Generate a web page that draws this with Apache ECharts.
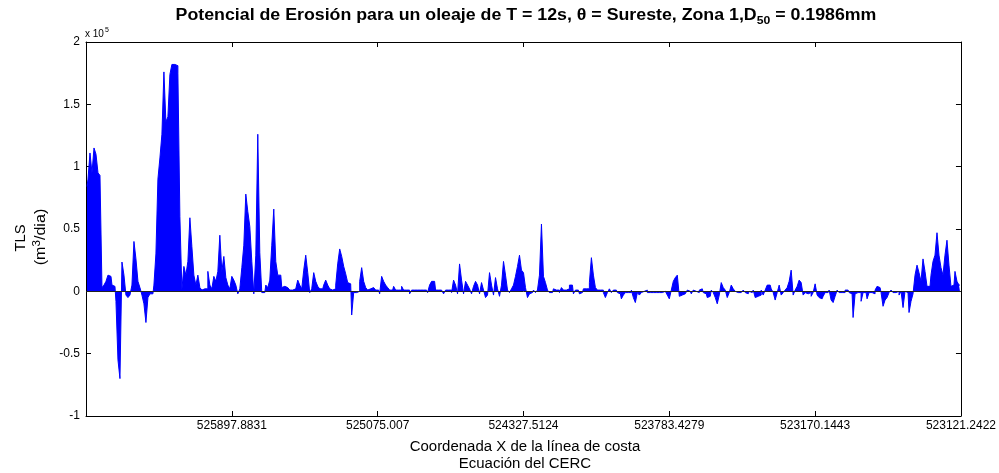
<!DOCTYPE html>
<html>
<head>
<meta charset="utf-8">
<script src="https://cdn.jsdelivr.net/npm/echarts@6/dist/echarts.min.js"></script>
<style>
  html, body { margin: 0; padding: 0; background: #fff; }
  #chart { width: 999px; height: 473px; }
</style>
</head>
<body>
<div id="chart"></div>
<script>
// TLS along the shoreline, in units of 1e5 m^3/dia (one value per station)
const tlsValues = [
  0.84, 0.90, 1.11, 0.95, 1.15, 1.10, 0.95, 0.93, 0.03, 0.05,
  0.08, 0.13, 0.12, 0.05, 0.04, -0.08, -0.55, -0.70, 0.235, 0.13,
  -0.03, -0.05, -0.03, 0.05, 0.40, 0.26, 0.08, 0.03, -0.03, -0.10,
  -0.25, -0.05, -0.02, -0.02, 0.05, 0.30, 0.90, 1.07, 1.26, 1.76,
  1.36, 1.40, 1.74, 1.82, 1.82, 1.81, 1.75, 0.60, 0.01, 0.20,
  0.13, 0.24, 0.59, 0.36, 0.13, 0.05, 0.13, 0.03, 0.01, 0.02,
  0.02, 0.16, 0.05, 0.02, 0.12, 0.08, 0.16, 0.45, 0.16, 0.28,
  0.11, 0.05, 0.02, 0.12, 0.09, 0.05, -0.02, 0.02, 0.19, 0.37,
  0.78, 0.64, 0.52, 0.24, -0.02, 0.29, 1.26, 0.31, -0.01, -0.01,
  0.05, 0.03, 0.09, 0.37, 0.66, 0.24, 0.13, 0.13, 0.03, 0.04,
  0.03, 0.02, 0.01, 0.01, 0.02, 0.03, 0.09, 0.05, 0.02, 0.17,
  0.29, 0.15, -0.01, 0.02, 0.15, 0.08, 0.04, 0.02, 0.02, 0.05,
  0.09, 0.05, 0.02, 0.01, 0.02, 0.05, 0.22, 0.34, 0.28, 0.20,
  0.14, 0.07, 0.06, -0.19, -0.01, -0.01, 0.00, 0.08, 0.19, 0.08,
  0.03, 0.01, 0.02, 0.03, 0.03, 0.01, 0.01, -0.02, 0.12, 0.08,
  0.05, 0.03, 0.01, 0.01, 0.04, 0.01, 0.01, 0.01, 0.04, 0.01,
  0.01, 0.01, -0.02, 0.01, 0.01, 0.01, 0.01, 0.01, 0.01, 0.01,
  0.01, -0.01, 0.05, 0.08, 0.08, 0.01, 0.01, 0.01, 0.01, -0.02,
  0.01, 0.01, 0.01, -0.01, 0.09, 0.05, -0.02, 0.22, 0.09, -0.02,
  0.08, 0.05, 0.02, -0.02, 0.04, 0.08, 0.05, -0.02, 0.07, 0.01,
  -0.05, -0.03, 0.15, 0.05, -0.03, 0.11, 0.02, -0.04, 0.05, 0.24,
  0.13, 0.01, -0.01, 0.02, 0.05, 0.12, 0.20, 0.29, 0.17, 0.15,
  0.03, -0.05, -0.02, -0.01, 0.01, -0.01, 0.01, 0.13, 0.54, 0.12,
  0.07, 0.01, -0.01, -0.01, 0.02, 0.01, 0.01, -0.01, 0.03, 0.01,
  0.01, 0.02, 0.05, 0.05, -0.02, 0.01, 0.01, -0.02, -0.01, 0.02,
  0.02, 0.02, 0.07, 0.27, 0.13, 0.03, 0.01, 0.01, 0.01, -0.01,
  -0.05, -0.01, 0.02, -0.01, 0.01, 0.01, -0.01, -0.02, -0.06, -0.03,
  -0.01, -0.01, -0.01, 0.01, -0.05, -0.09, -0.01, -0.03, -0.01, 0.00,
  0.01, -0.01, -0.01, -0.01, -0.01, -0.01, -0.01, -0.02, -0.01, 0.00,
  -0.01, -0.03, -0.06, 0.01, 0.08, 0.11, 0.13, -0.04, -0.03, -0.02,
  -0.01, 0.01, 0.00, -0.02, 0.01, 0.00, -0.01, 0.01, 0.02, -0.01,
  -0.02, -0.05, -0.04, 0.01, -0.01, -0.05, -0.10, -0.03, 0.07, 0.03,
  0.01, -0.05, -0.01, 0.05, 0.02, 0.00, -0.01, -0.01, 0.00, 0.01,
  -0.01, -0.02, 0.00, -0.01, 0.01, -0.05, -0.04, -0.03, 0.01, -0.03,
  0.01, 0.05, 0.05, 0.02, -0.01, -0.07, -0.01, 0.05, -0.03, -0.01,
  0.01, 0.03, 0.08, 0.17, -0.03, 0.01, 0.04, 0.09, 0.07, -0.03,
  -0.01, -0.02, -0.01, -0.04, -0.01, 0.06, -0.03, -0.05, -0.06, -0.04,
  -0.01, -0.01, 0.01, -0.07, -0.09, -0.04, 0.01, -0.01, -0.01, -0.01,
  0.01, 0.01, -0.01, -0.02, -0.21, -0.02, -0.01, -0.01, -0.08, -0.01,
  -0.01, -0.06, -0.01, -0.01, -0.02, 0.01, 0.04, 0.03, -0.01, -0.12,
  -0.07, -0.05, -0.01, 0.01, -0.01, -0.01, 0.00, -0.03, 0.00, -0.13,
  0.00, -0.01, -0.17, -0.08, -0.02, 0.13, 0.21, 0.15, 0.08, 0.26,
  0.16, 0.04, 0.04, 0.13, 0.24, 0.29, 0.47, 0.29, 0.19, 0.13,
  0.29, 0.41, 0.21, 0.04, 0.05, 0.16, 0.08, 0.05
];

// Shoreline X coordinates shown under the ticks
const xTickLabels = ['', '525897.8831', '525075.007', '524327.5124', '523783.4279', '523170.1443', '523121.2422'];

const stationCount = tlsValues.length;
const stations = tlsValues.map((_, i) => String(i + 1));
const xTickStep = stationCount / (xTickLabels.length - 1);

const chart = echarts.init(document.getElementById('chart'), null, { renderer: 'canvas' });

const FONT = 'Liberation Sans, Arial, sans-serif';
const BLUE = '#0000ff';

const tickStyle = { inside: true, length: 5, lineStyle: { color: '#000', width: 1 } };
const axisLine = { show: true, onZero: false, lineStyle: { color: '#000', width: 1 } };

chart.setOption({
  animation: false,
  backgroundColor: '#fff',
  grid: { left: 86, right: 37, top: 42, bottom: 57, containLabel: false },
  xAxis: [
    {
      // one band per station carries the stepped profile
      type: 'category', data: stations, boundaryGap: true, show: false
    },
    {
      // shoreline coordinate ticks along the bottom
      type: 'value', position: 'bottom', min: 0, max: stationCount, interval: xTickStep,
      axisLine: axisLine, axisTick: tickStyle, splitLine: { show: false },
      axisLabel: {
        color: '#000', fontFamily: FONT, fontSize: 12, margin: 4,
        formatter: v => xTickLabels[Math.round(v / xTickStep)] || ''
      }
    },
    {
      type: 'value', position: 'top', min: 0, max: stationCount, interval: xTickStep,
      axisLine: axisLine, axisTick: tickStyle, splitLine: { show: false },
      axisLabel: { show: false }
    }
  ],
  yAxis: [
    {
      type: 'value', min: -1, max: 2, interval: 0.5,
      axisLine: axisLine, axisTick: tickStyle, splitLine: { show: false },
      axisLabel: { color: '#000', fontFamily: FONT, fontSize: 12, margin: 6 }
    },
    {
      type: 'value', position: 'right', min: -1, max: 2, interval: 0.5,
      axisLine: axisLine, axisTick: tickStyle, splitLine: { show: false },
      axisLabel: { show: false }
    }
  ],
  series: [
    {
      type: 'line',
      xAxisIndex: 0,
      yAxisIndex: 0,
      data: tlsValues,
      step: 'middle',
      showSymbol: false,
      lineStyle: { color: BLUE, width: 1 },
      areaStyle: { color: BLUE, opacity: 1 },
      markLine: {
        silent: true, symbol: 'none', label: { show: false },
        lineStyle: { color: '#222', width: 1, type: 'solid' },
        data: [{ yAxis: 0 }]
      }
    }
  ],
  graphic: [
    {
      type: 'text', x: 526, y: 7, scaleX: 1.11,
      style: {
        text: '{t|Potencial de Erosión para un oleaje de T = 12s, θ = Sureste, Zona 1,D}{s|50}{t| = 0.1986mm}',
        align: 'center', verticalAlign: 'top',
        rich: {
          t: { fontFamily: FONT, fontSize: 16, fontWeight: 'bold', fill: '#000', lineHeight: 18 },
          s: { fontFamily: FONT, fontSize: 11, fontWeight: 'bold', fill: '#000', padding: [10, 0, 0, 0], lineHeight: 18 }
        }
      }
    },
    {
      type: 'text', x: 85, y: 25,
      style: {
        text: '{a|x 10}{b|5}',
        rich: {
          a: { fontFamily: FONT, fontSize: 10, fill: '#000', padding: [4, 0, 0, 0] },
          b: { fontFamily: FONT, fontSize: 7, fill: '#000', padding: [0, 0, 4, 1] }
        }
      }
    },
    {
      type: 'text', x: 21, y: 238, rotation: Math.PI / 2, scaleX: 1.05,
      style: { text: 'TLS', fontFamily: FONT, fontSize: 14, fill: '#000', align: 'center', verticalAlign: 'middle' }
    },
    {
      type: 'text', x: 41, y: 237, rotation: Math.PI / 2, scaleX: 1.15,
      style: {
        text: '{a|(m}{b|3}{a|/dia)}', align: 'center', verticalAlign: 'middle',
        rich: {
          a: { fontFamily: FONT, fontSize: 14, fill: '#000' },
          b: { fontFamily: FONT, fontSize: 10, fill: '#000', padding: [0, 0, 7, 0] }
        }
      }
    },
    {
      type: 'text', x: 525, y: 447, scaleX: 1.07,
      style: { text: 'Coordenada X de la línea de costa', fontFamily: FONT, fontSize: 14, fill: '#000', align: 'center', verticalAlign: 'middle' }
    },
    {
      type: 'text', x: 525, y: 464, scaleX: 1.07,
      style: { text: 'Ecuación del CERC', fontFamily: FONT, fontSize: 14, fill: '#000', align: 'center', verticalAlign: 'middle' }
    }
  ]
});
</script>
</body>
</html>
